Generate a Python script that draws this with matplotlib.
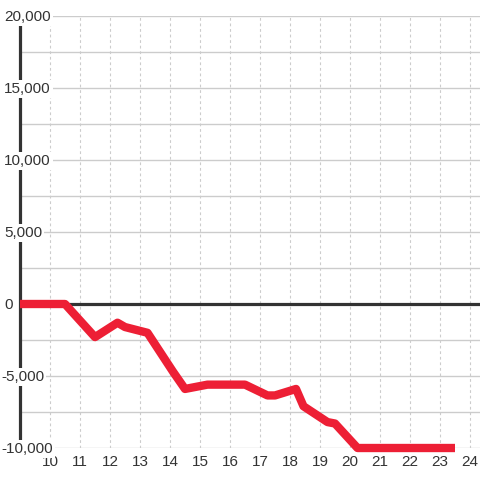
import matplotlib
matplotlib.use("Agg")
import matplotlib.pyplot as plt
from matplotlib.transforms import blended_transform_factory, offset_copy

hours = [9.0, 10.5, 11.5, 12.25, 12.5, 13.25, 14.1, 14.5, 15.25, 16.5, 17.25, 17.5,
         18.2, 18.45, 19.25, 19.5, 20.25, 23.5]
values = [0, 0, -2300, -1300, -1600, -2000, -4700, -5900, -5600, -5600, -6350, -6350,
          -5900, -7100, -8200, -8300, -10000, -10000]
x_ticks = list(range(10, 25))
y_ticks = [-10000, -5000, 0, 5000, 10000, 15000, 20000]

plt.rcParams['font.family'] = ['Liberation Sans', 'DejaVu Sans']

fig = plt.figure(figsize=(4.8, 4.8), dpi=100)
ax = fig.add_axes([20/480, 32/480, 460/480, 432/480])
ax.set_xlim(9, 24 + 1/3)
ax.set_ylim(-10000, 20000)

# grid
for v in range(-10000, 20001, 2500):
    ax.axhline(v, color='#cccccc', lw=1.0, zorder=1)
for h in x_ticks:
    ax.axvline(h, color='#cccccc', lw=0.8, ls=(0, (2.5, 2.5)), zorder=1)

ax.axhline(0, color='#333333', lw=2.3, zorder=2)

ax.plot(hours, values, color='#ed1f35', lw=6.0, solid_joinstyle='round',
        solid_capstyle='butt', zorder=3, clip_on=False)

for s in ['top', 'right', 'bottom']:
    ax.spines[s].set_visible(False)
ax.spines['left'].set_color('#333333')
ax.spines['left'].set_linewidth(2.3)
ax.spines['left'].set_zorder(2.6)

ax.set_yticks([])
ax.set_xticks(x_ticks)
ax.set_xticklabels([str(t) for t in x_ticks], fontsize=11, color='#333333')
ax.tick_params(axis='x', length=0, pad=5)

tr = blended_transform_factory(fig.transFigure, ax.transData)
tr = offset_copy(tr, fig=fig, x=0, y=-1, units='dots')
for v in y_ticks:
    xpos = 4/480 if v >= 0 else 1/480
    ax.text(xpos, v, f"{v:,}", transform=tr, ha='left', va='center',
            fontsize=11, color='#333333', zorder=6, clip_on=False,
            bbox=dict(boxstyle='square,pad=0.15', fc='white', ec='none'))

fig.savefig('out.png', dpi=100)
